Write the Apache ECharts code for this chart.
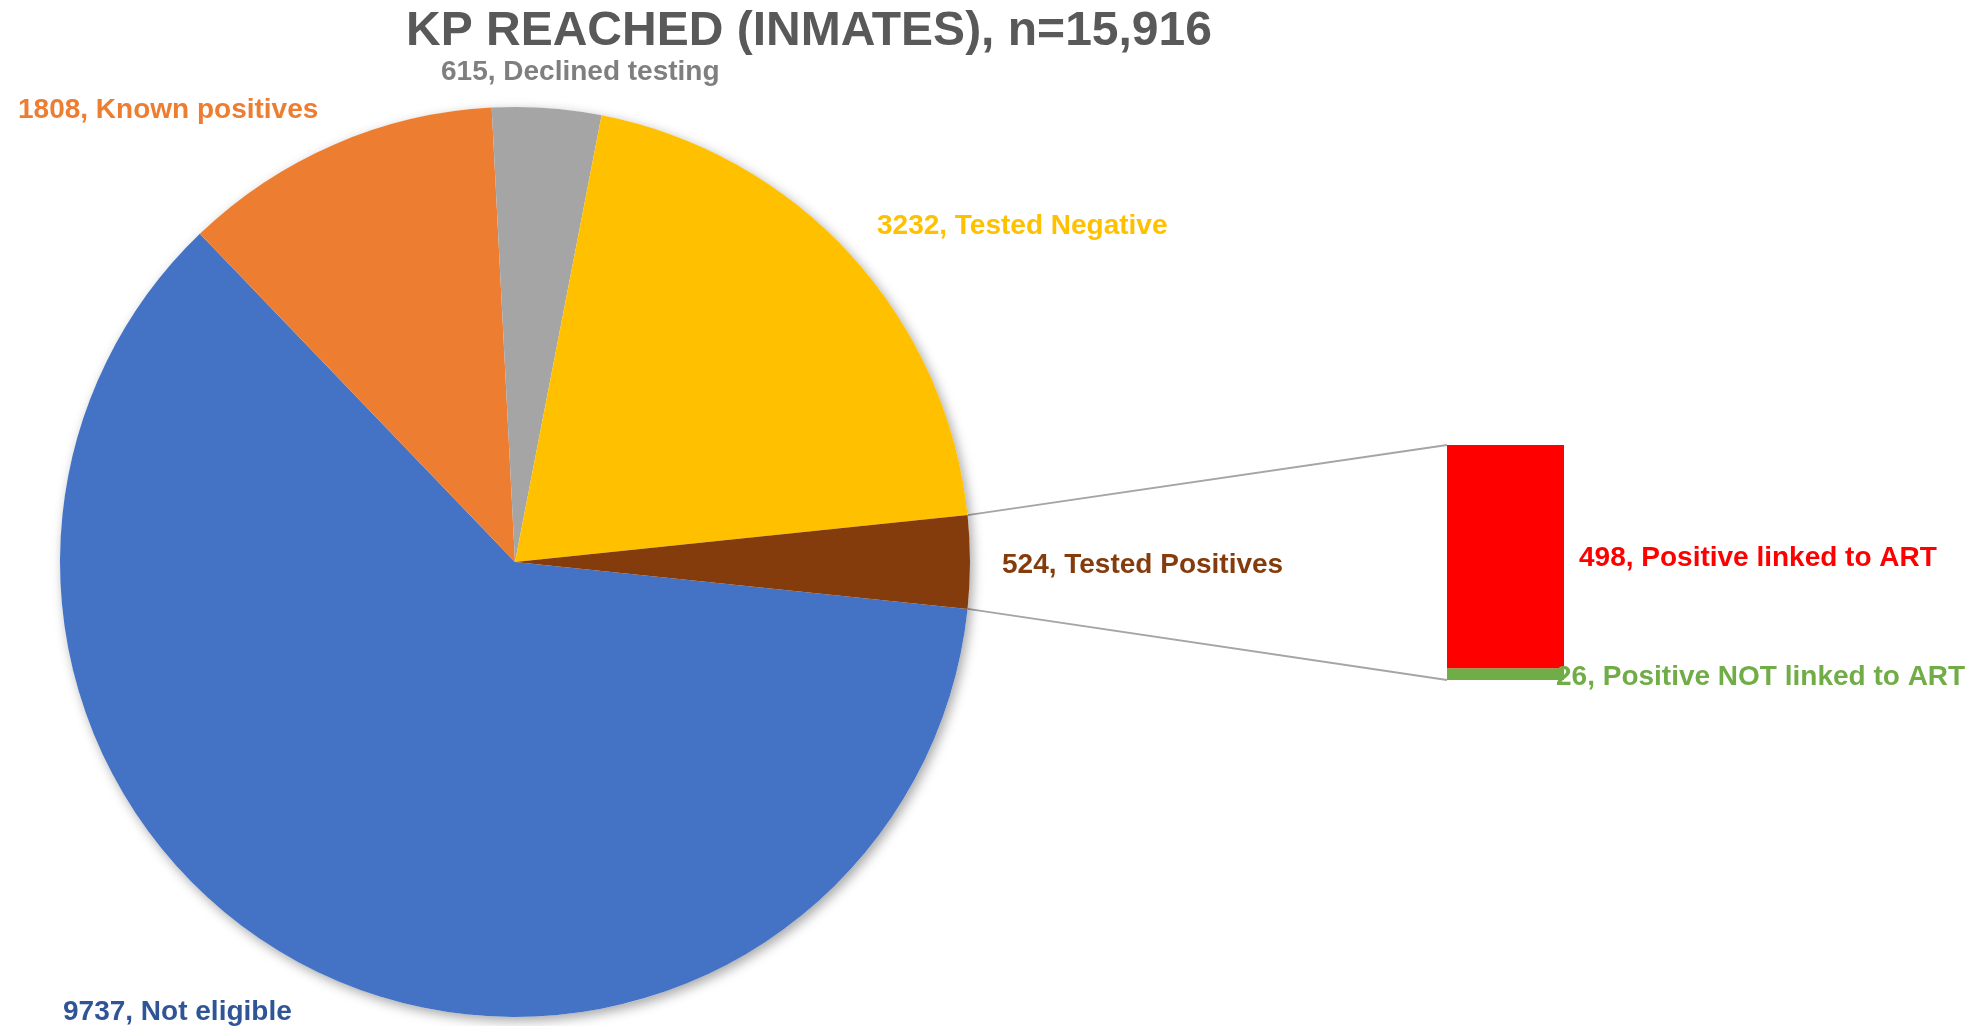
<!DOCTYPE html>
<html>
<head>
<meta charset="utf-8">
<script src="https://cdn.jsdelivr.net/npm/echarts@6/dist/echarts.min.js"></script>
<style>
    html, body { margin: 0; padding: 0; background: #fff; }
    #main { width: 1981px; height: 1026px; }
</style>
</head>
<body>
<div id="main"></div>
<script>
    // data
    var titleText = 'KP REACHED (INMATES), n=15,916';
    var categories = ['Not eligible', 'Known positives', 'Declined testing', 'Tested Negative', 'Tested Positives'];
    var values = [9737, 1808, 615, 3232, 524];
    var barCategory = ['Tested Positives'];
    var barNames = ['Positive NOT linked to ART', 'Positive linked to ART'];
    var barValues = [26, 498];

    // styles
    var sliceColors = ['#4472C4', '#ED7D31', '#A5A5A5', '#FFC000', '#843C0C'];
    var labelColors = ['#2F5597', '#ED7D31', '#7F7F7F', '#FFC000', '#843C0C'];
    var labelPos = [[63, 1012], [18, 110], [441, 72], [877, 226], [1002, 565]];
    var font = '"Liberation Sans", Arial, sans-serif';
    var pieCenter = [515, 562], pieRadius = 455;
    var barGrid = {left: 1447, top: 445, width: 117, height: 235};

    var total = values.reduce(function (a, b) { return a + b; }, 0);
    // secondary slice (last one) centred on 3 o'clock, like Excel's bar of pie
    var halfSec = values[values.length - 1] / total * 360 / 2;
    var startAngle = 360 - halfSec;

    var pieData = categories.map(function (c, i) {
        return {
            name: c,
            value: values[i],
            itemStyle: {color: sliceColors[i]},
            label: {color: labelColors[i]}
        };
    });

    var el = document.getElementById('main');
    var myChart = echarts.init(el);
    var option = {
        animation: false,
        backgroundColor: '#fff',
        title: {
            text: titleText,
            left: 401,
            top: 3,
            textStyle: {fontFamily: font, fontSize: 48, fontWeight: 'bold', color: '#595959'}
        },
        grid: barGrid,
        xAxis: {type: 'category', data: barCategory, show: false},
        yAxis: {type: 'value', min: 0, max: barValues[0] + barValues[1], show: false},
        series: [
            {
                // shadow disc behind the pie
                type: 'pie',
                silent: true,
                center: pieCenter,
                radius: pieRadius,
                label: {show: false},
                labelLine: {show: false},
                itemStyle: {
                    color: '#fff',
                    shadowBlur: 12,
                    shadowOffsetX: 3,
                    shadowOffsetY: 4,
                    shadowColor: 'rgba(0,0,0,0.35)'
                },
                data: [1]
            },
            {
                type: 'pie',
                center: pieCenter,
                radius: pieRadius,
                startAngle: startAngle,
                clockwise: true,
                avoidLabelOverlap: false,
                emphasis: {disabled: true},
                label: {
                    show: true,
                    formatter: '{c}, {b}',
                    fontFamily: font,
                    fontSize: 28,
                    fontWeight: 'bold'
                },
                labelLine: {show: false},
                labelLayout: function (p) {
                    var pos = labelPos[p.dataIndex];
                    return {x: pos[0], y: pos[1], align: 'left', verticalAlign: 'middle'};
                },
                data: pieData
            },
            {
                name: barNames[0],
                type: 'bar',
                stack: 'pos',
                barWidth: '100%',
                itemStyle: {color: '#70AD47'},
                label: {
                    show: true,
                    position: 'right',
                    distance: -8,
                    offset: [0, 3],
                    formatter: '{c}, ' + barNames[0],
                    color: '#70AD47',
                    fontFamily: font,
                    fontSize: 28,
                    fontWeight: 'bold'
                },
                data: [barValues[0]]
            },
            {
                name: barNames[1],
                type: 'bar',
                stack: 'pos',
                barWidth: '100%',
                itemStyle: {color: '#FF0000'},
                label: {
                    show: true,
                    position: 'right',
                    distance: 15,
                    offset: [0, 2],
                    formatter: '{c}, ' + barNames[1],
                    color: '#FF0000',
                    fontFamily: font,
                    fontSize: 28,
                    fontWeight: 'bold'
                },
                data: [barValues[1]]
            }
        ]
    };
    myChart.setOption(option);

    // connector lines from the secondary slice edges to the bar corners
    var rad = halfSec * Math.PI / 180;
    var px = pieCenter[0] + pieRadius * Math.cos(rad);
    var pyTop = pieCenter[1] - pieRadius * Math.sin(rad);
    var pyBot = pieCenter[1] + pieRadius * Math.sin(rad);
    var barTop = myChart.convertToPixel({gridIndex: 0}, [0, barValues[0] + barValues[1]])[1];
    var barBot = myChart.convertToPixel({gridIndex: 0}, [0, 0])[1];
    var lineStyle = {stroke: '#A5A5A5', lineWidth: 1.8};
    myChart.setOption({
        graphic: [
            {type: 'line', shape: {x1: px, y1: pyTop, x2: barGrid.left, y2: barTop}, style: lineStyle, z: -1},
            {type: 'line', shape: {x1: px, y1: pyBot, x2: barGrid.left, y2: barBot}, style: lineStyle, z: -1}
        ]
    });
</script>
</body>
</html>
